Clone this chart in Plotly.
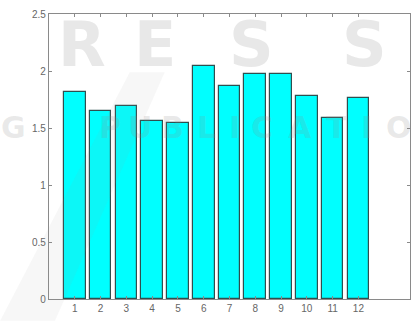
import plotly.graph_objects as go

categories = [1, 2, 3, 4, 5, 6, 7, 8, 9, 10, 11, 12]
values = [1.82, 1.645, 1.69, 1.56, 1.545, 2.045, 1.865, 1.97, 1.975, 1.78, 1.59, 1.765]
y_ticks = [0, 0.5, 1, 1.5, 2, 2.5]
y_tick_labels = ["0", "0.5", "1", "1.5", "2", "2.5"]

# background watermark (decoration, pixel positions in the figure)
wm_big_letters = ["R", "E", "S", "S"]
wm_big_x = [82, 155, 252, 365]
wm_small_letters = list("GPUBLICATIO")
wm_small_x = [13, 110, 140, 173, 207, 235, 263, 301, 337, 367, 400]

W, H = 419, 322
L, R, T, B = 49, 8, 11, 22

fig = go.Figure()
fig.add_trace(go.Bar(
    x=categories, y=values, width=0.84,
    marker=dict(color="#00FFFF", line=dict(color="#2f4f4f", width=1.2)),
))

axis_common = dict(
    showline=True, linecolor="#8a8a8a", linewidth=1.2, mirror="ticks",
    ticks="inside", ticklen=3, tickcolor="#8a8a8a", showgrid=False, zeroline=False,
    tickfont=dict(family="Liberation Sans, Arial", size=10, color="#666666"),
)
fig.update_xaxes(range=[0, 14], tickvals=categories, ticktext=[str(c) for c in categories], **axis_common)
fig.update_yaxes(range=[0, 2.5], tickvals=y_ticks, ticktext=y_tick_labels, **axis_common)

pw, ph = W - L - R, H - T - B
def px(xp):
    return (xp - L) / pw
def py(yp):
    return (H - B - yp) / ph

wm = "rgba(140,140,140,0.2)"
for ch, xc in zip(wm_big_letters, wm_big_x):
    fig.add_annotation(x=px(xc), y=py(42), xref="paper", yref="paper", text="<b>" + ch + "</b>",
                       showarrow=False, xanchor="center", yanchor="middle",
                       font=dict(family="DejaVu Sans", size=62, color=wm))
for ch, xc in zip(wm_small_letters, wm_small_x):
    fig.add_annotation(x=px(xc), y=py(126), xref="paper", yref="paper", text="<b>" + ch + "</b>",
                       showarrow=False, xanchor="center", yanchor="middle",
                       font=dict(family="DejaVu Sans", size=30, color=wm))
fig.add_shape(type="path", xref="paper", yref="paper",
              path=f"M {px(0)} {py(322)} L {px(55)} {py(322)} L {px(165)} {py(70)} L {px(130)} {py(70)} Z",
              fillcolor="rgba(150,150,150,0.08)", line=dict(width=0), layer="above")

fig.update_layout(
    width=W, height=H,
    margin=dict(l=L, r=R, t=T, b=B),
    paper_bgcolor="white", plot_bgcolor="white",
    showlegend=False, bargap=0,
)
fig.write_html("out.html")
